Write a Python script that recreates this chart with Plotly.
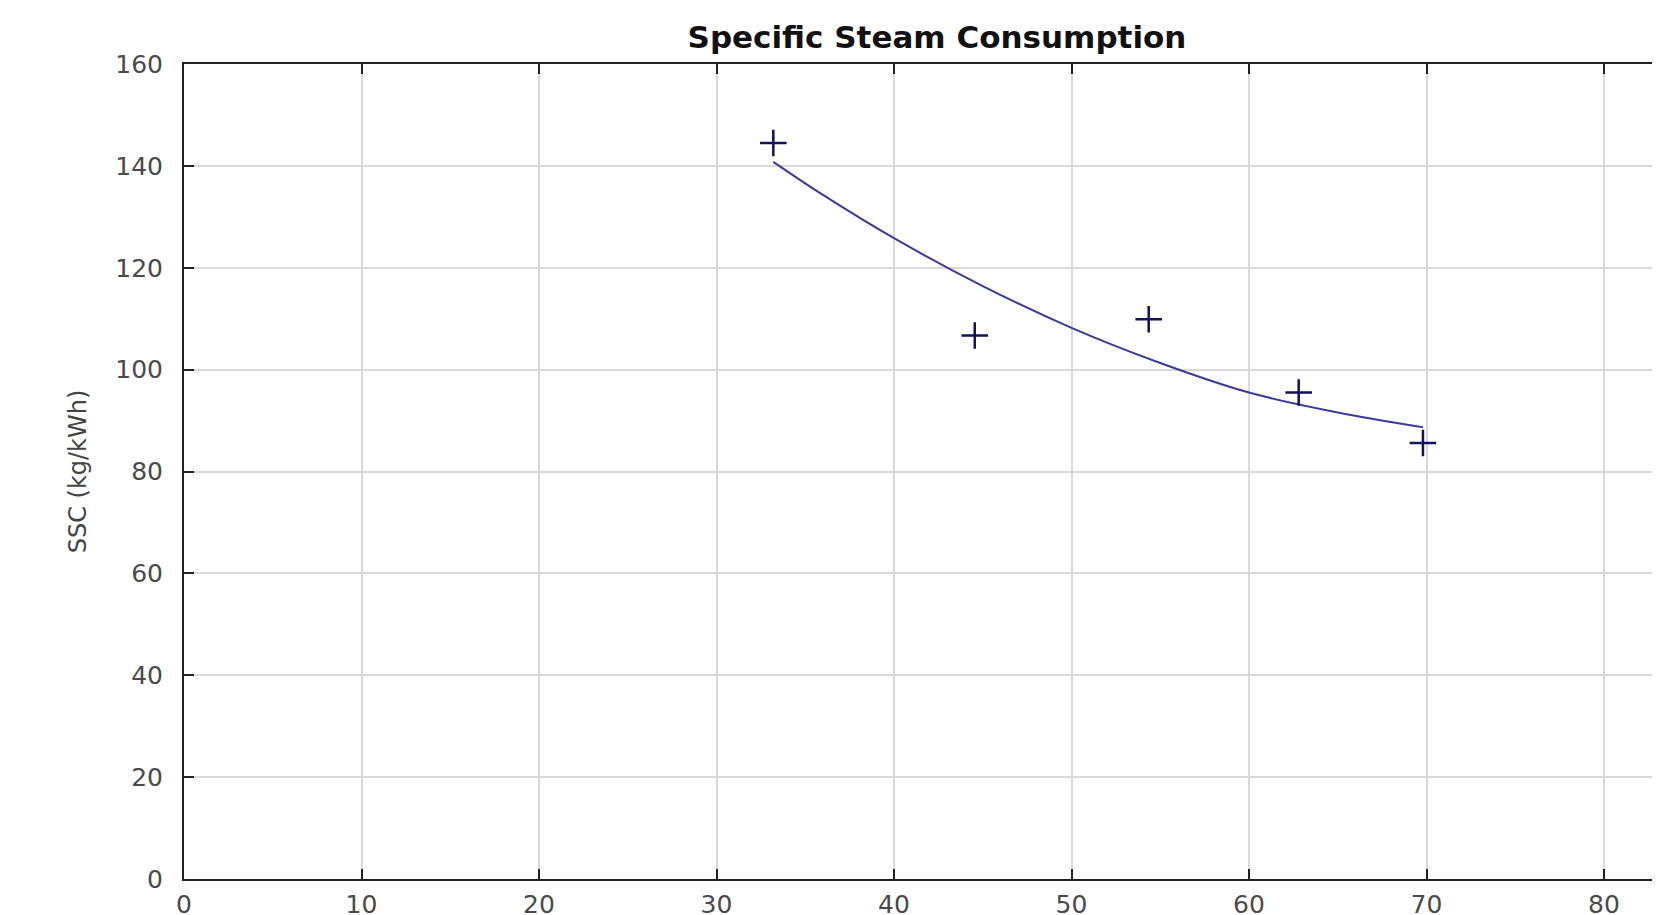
import plotly.graph_objects as go

# measured data points
power_kw = [33.2, 44.55, 54.35, 62.8, 69.8]
ssc_points = [144.5, 106.7, 109.9, 95.5, 85.6]

# fitted curve
fit_x = [33.2, 36, 40, 45, 50, 55, 60, 65, 69.8]
fit_y = [140.8, 134.3, 125.8, 116.4, 108.2, 101.3, 95.5, 91.6, 88.7]

x_ticks = [0, 10, 20, 30, 40, 50, 60, 70, 80]
y_ticks = [0, 20, 40, 60, 80, 100, 120, 140, 160]

W, H = 1660, 915
OFF = 8  # page body margin offset
L, T = 184 - OFF, 64 - OFF
B = H - (879 - OFF)
px_per_unit = 17.75
x_max = (W - L) / px_per_unit

fig = go.Figure()
fig.add_trace(go.Scatter(
    x=fit_x, y=fit_y, mode="lines",
    line=dict(color="#3a3aa0", width=2, shape="spline"),
    showlegend=False, hoverinfo="skip",
))
fig.add_trace(go.Scatter(
    x=power_kw, y=ssc_points, mode="markers",
    marker=dict(symbol="cross-thin", size=19,
                line=dict(color="#12125e", width=2.5)),
    showlegend=False,
))

tick_font = dict(family="DejaVu Sans", size=25, color="#4a4a4a")

fig.update_layout(
    width=W, height=H,
    margin=dict(l=L, r=0, t=T, b=B, pad=0, autoexpand=False),
    paper_bgcolor="white", plot_bgcolor="white",
    title=dict(
        text="Specific Steam Consumption",
        font=dict(family="DejaVu Sans", size=31, color="#111111", weight="bold"),
        x=(937 - OFF) / W, xanchor="center", xref="container",
        y=1 - (37 - OFF) / H, yanchor="middle", yref="container",
        automargin=False,
    ),
    xaxis=dict(
        range=[0, x_max], tickvals=x_ticks, ticktext=[str(v) for v in x_ticks],
        showgrid=True, gridcolor="#d9d9d9", gridwidth=2,
        showline=True, linecolor="#222222", linewidth=2, mirror="ticks",
        ticks="inside", ticklen=10, tickwidth=2, tickcolor="#222222",
        tickfont=tick_font, ticklabelstandoff=2, zeroline=False,
        automargin=False,
    ),
    yaxis=dict(
        range=[0, 160], tickvals=y_ticks, ticktext=[str(v) for v in y_ticks],
        showgrid=True, gridcolor="#d9d9d9", gridwidth=2,
        showline=True, linecolor="#222222", linewidth=2, mirror=False,
        ticks="inside", ticklen=10, tickwidth=2, tickcolor="#222222",
        tickfont=tick_font, ticklabelstandoff=14, zeroline=False,
        automargin=False,
        title=dict(text="SSC (kg/kWh)", standoff=22,
                   font=dict(family="DejaVu Sans", size=24, color="#444444")),
    ),
)

fig.write_html("out.html")
